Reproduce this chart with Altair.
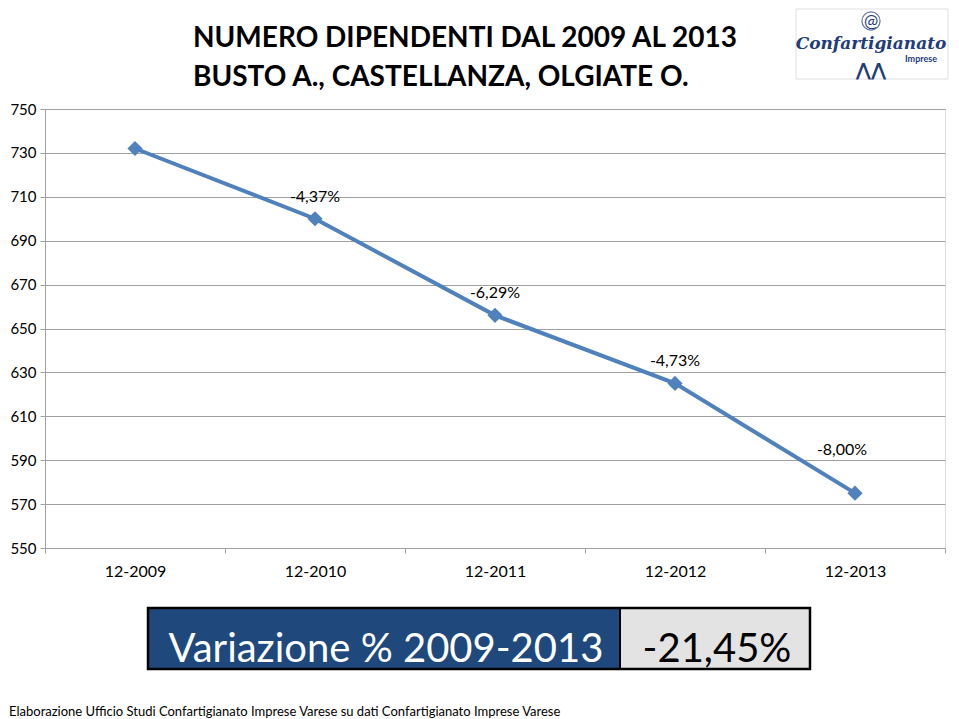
import altair as alt
import pandas as pd

periods = ["12-2009", "12-2010", "12-2011", "12-2012", "12-2013"]
employees = [732, 700, 656, 625, 575]
changes = ["", "-4,37%", "-6,29%", "-4,73%", "-8,00%"]
title_lines = ["NUMERO DIPENDENTI DAL 2009 AL 2013", "BUSTO A., CASTELLANZA, OLGIATE O."]
box_label = "Variazione % 2009-2013"
box_value = "-21,45%"
footer = "Elaborazione Ufficio Studi Confartigianato Imprese Varese su dati Confartigianato Imprese Varese"

df = pd.DataFrame({"period": periods, "value": employees, "change": changes})

FONT = "Lato"
W, H = 900, 439

x_enc = alt.X("period:N", sort=periods, bandPosition=0.5,
              scale=alt.Scale(paddingInner=0, paddingOuter=0),
              axis=alt.Axis(title=None, labelAngle=0, tickBand="extent", tickSize=5,
                            labelPadding=10, labelFontSize=16, labelColor="#000",
                            labelFont=FONT, domainColor="#A0A0A0", tickColor="#A0A0A0",
                            grid=False))
y_enc = alt.Y("value:Q", scale=alt.Scale(domain=[550, 750], nice=False, zero=False),
              axis=alt.Axis(title=None, values=list(range(550, 751, 20)), tickSize=5,
                            labelPadding=4, labelFontSize=15, labelColor="#000",
                            labelFont=FONT, domainColor="#A0A0A0", tickColor="#A0A0A0",
                            gridColor="#A0A0A0", gridWidth=1))

base = alt.Chart(df)
line = base.mark_line(color="#4F81BD", strokeWidth=4).encode(x=x_enc, y=y_enc)
pts = base.mark_point(shape="diamond", filled=True, color="#4F81BD", size=230, opacity=1).encode(
    x=alt.X("period:N", sort=periods, bandPosition=0.5), y="value:Q")
lab = base.transform_filter(
    (alt.datum.change != "") & (alt.datum.period != periods[-1])
).mark_text(fontSize=16, font=FONT, color="#000", dy=-22).encode(
    x=alt.X("period:N", sort=periods, bandPosition=0.5), y="value:Q", text="change:N")
lab_last = base.transform_filter(alt.datum.period == periods[-1]).mark_text(
    fontSize=16, font=FONT, color="#000", dy=-43, dx=-13).encode(
    x=alt.X("period:N", sort=periods, bandPosition=0.5), y="value:Q", text="change:N")

one = pd.DataFrame({"a": [0]})
ann = alt.Chart(one)

t1 = ann.mark_text(text=title_lines[0], font=FONT, fontWeight="bold", fontSize=28,
                   align="left", baseline="alphabetic", color="#000").encode(
    x=alt.value(148), y=alt.value(-62))
t2 = ann.mark_text(text=title_lines[1], font=FONT, fontWeight="bold", fontSize=28,
                   align="left", baseline="alphabetic", color="#000").encode(
    x=alt.value(148), y=alt.value(-23))

blue = ann.mark_rect(color="#1F497D").encode(
    x=alt.value(103), x2=alt.value(575), y=alt.value(499), y2=alt.value(560))
grey = ann.mark_rect(color="#E3E3E3").encode(
    x=alt.value(575), x2=alt.value(765), y=alt.value(499), y2=alt.value(560))
frame = ann.mark_rect(fill=None, stroke="#000", strokeWidth=2.5).encode(
    x=alt.value(103), x2=alt.value(765), y=alt.value(499), y2=alt.value(560))
divider = ann.mark_rule(color="#000", strokeWidth=2).encode(
    x=alt.value(575), y=alt.value(499), y2=alt.value(560))
bl = ann.mark_text(text=box_label, font=FONT, fontSize=40, color="#fff",
                   align="center", baseline="alphabetic").encode(
    x=alt.value(341), y=alt.value(553))
bv = ann.mark_text(text=box_value, font=FONT, fontSize=40, color="#000",
                   align="center", baseline="alphabetic").encode(
    x=alt.value(672), y=alt.value(553))

foot = ann.mark_text(text=footer, font=FONT, fontSize=13, color="#000",
                     align="left", baseline="alphabetic").encode(
    x=alt.value(-36), y=alt.value(607))

# logo
logo_bg = ann.mark_rect(fill="#fff", stroke="#E0E0E0").encode(
    x=alt.value(751), x2=alt.value(903), y=alt.value(-100), y2=alt.value(-30))
logo_at = ann.mark_text(text="@", font=FONT, fontSize=17, color="#1F3D7A").encode(
    x=alt.value(826), y=alt.value(-87))
logo_ring = ann.mark_point(shape="circle", size=330, color="#1F3D7A", strokeWidth=1.2).encode(
    x=alt.value(826), y=alt.value(-88))
logo_name = ann.mark_text(text="Confartigianato", font="DejaVu Serif", fontStyle="italic",
                          fontWeight="bold", fontSize=17, color="#1F3D7A",
                          baseline="alphabetic").encode(x=alt.value(826), y=alt.value(-60))
logo_imp = ann.mark_text(text="Imprese", font=FONT, fontWeight="bold", fontSize=9,
                         color="#1F3D7A", align="left").encode(x=alt.value(860), y=alt.value(-50))
logo_mark = ann.mark_text(text="⋀⋀", font="DejaVu Sans", fontWeight="bold", fontSize=18,
                          color="#1F3D7A").encode(x=alt.value(826), y=alt.value(-38))

chart = alt.layer(
    line, pts, lab, lab_last, t1, t2, blue, grey, frame, divider, bl, bv, foot,
    logo_bg, logo_ring, logo_at, logo_name, logo_imp, logo_mark
).properties(
    width=W, height=H,
    autosize=alt.AutoSizeParams(type="none"),
    padding={"left": 37, "top": 101, "right": 6, "bottom": 171},
).configure_view(stroke=None).configure(background="#ffffff")

chart.save("out.html", embed_options={"renderer": "svg", "actions": False})
